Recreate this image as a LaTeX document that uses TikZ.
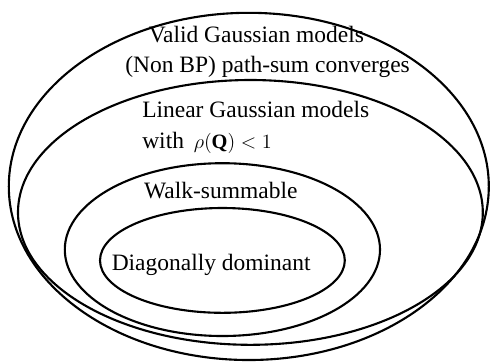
\documentclass[tikz,border=0pt]{standalone}
\usepackage{fontspec}
\usepackage{amsmath}
\setmainfont{Liberation Serif}

\begin{document}
\begin{tikzpicture}[
        setline/.style={line width=1.5pt},
        setlabel/.style={anchor=base, inner sep=0pt, font=\fontsize{16.7}{20}\selectfont}
    ]
        \useasboundingbox (0,0) rectangle (12.25,-9.05);

        % nested sets
        \draw[setline] (6.22,-4.66) ellipse [x radius=6.0, y radius=4.34];
        \draw[setline] (6.26,-5.31) ellipse [x radius=5.81, y radius=3.31];
        \draw[setline] (5.56,-6.24) ellipse [x radius=3.94, y radius=2.16];
        \draw[setline] (5.56,-6.51) ellipse [x radius=3.06, y radius=1.31];

        \node[setlabel] (valid) at (6.41,-1.05) {Valid Gaussian models};
        \node[setlabel] (nonbp) at (6.69,-1.81) {(Non BP) path-sum converges};
        \node[setlabel, anchor=base west] (linear) at (3.55,-2.93) {Linear Gaussian models};
        \node[setlabel, anchor=base west] (rho) at (3.55,-3.70) {with\, {\fontsize{14.5}{17}\selectfont$\rho(\mathbf{Q})<1$}};
        \node[setlabel] (walk) at (5.52,-4.95) {Walk-summable};
        \node[setlabel] (diag) at (5.28,-6.75) {Diagonally dominant};
    \end{tikzpicture}
\end{document}
